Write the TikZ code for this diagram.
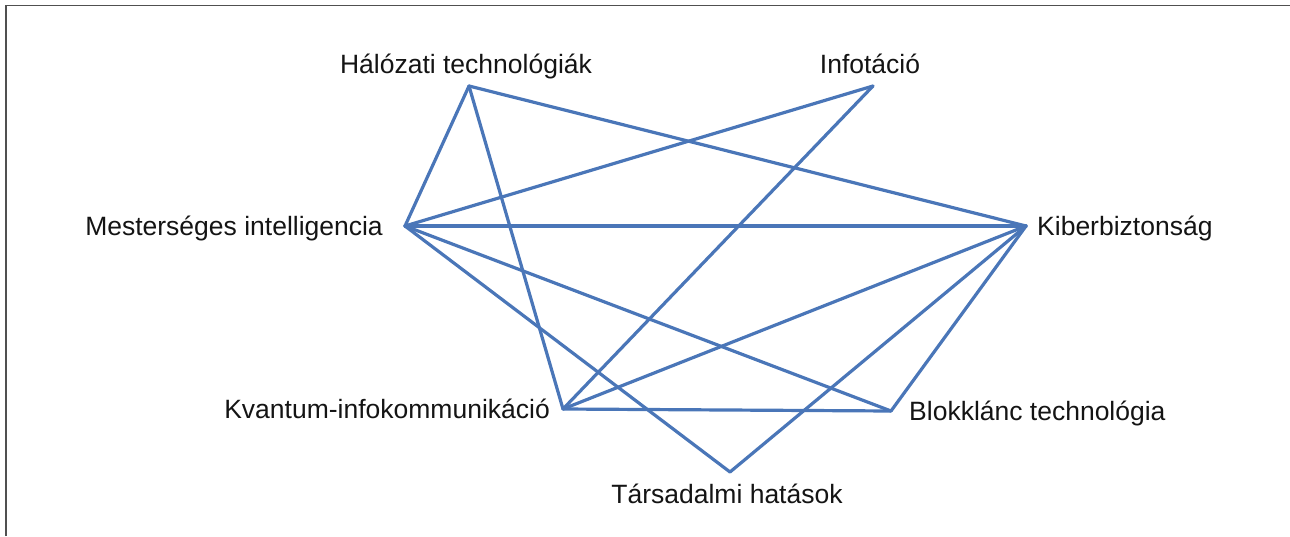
\documentclass[tikz,border=0pt]{standalone}
\usepackage{fontspec}
\setmainfont{Liberation Sans}
\definecolor{edgeblue}{HTML}{4A76B8}
\definecolor{framegray}{HTML}{505050}
\begin{document}
\begin{tikzpicture}[x=1pt,y=-1pt,
  lbl/.style={font=\fontsize{26.5}{31}\selectfont, text=black!92, inner sep=0pt},
  edge/.style={draw=edgeblue, line width=3.2pt, line cap=round, line join=round}]
\useasboundingbox (0,0) rectangle (1290,536);
\draw[framegray, line width=1.5pt] (6,536) -- (6,5.5) -- (1290,5.5);
% vertices
\coordinate (H) at (469,86);
\coordinate (I) at (873,86);
\coordinate (M) at (405,226);
\coordinate (K) at (1026,226);
\coordinate (Q) at (563,409);
\coordinate (B) at (891,411);
\coordinate (T) at (730,472);
% labels
\node[lbl, anchor=base] (hl) at (466,73) {Hálózati technológiák};
\node[lbl, anchor=base] (il) at (870,73) {Infotáció};
\node[lbl, anchor=base east] (ml) at (383,235) {Mesterséges intelligencia};
\node[lbl, anchor=base west] (kl) at (1037,235) {Kiberbiztonság};
\node[lbl, anchor=base east] (ql) at (550,418) {Kvantum-infokommunikáció};
\node[lbl, anchor=base west] (bl) at (909,420) {Blokklánc technológia};
\node[lbl, anchor=base] (tl) at (727,503) {Társadalmi hatások};
% edges
\draw[edge] (H) -- (M);
\draw[edge] (H) -- (K);
\draw[edge] (H) -- (Q);
\draw[edge] (I) -- (M);
\draw[edge] (I) -- (Q);
\draw[edge] (M) -- (K);
\draw[edge] (M) -- (B);
\draw[edge] (M) -- (T);
\draw[edge] (K) -- (Q);
\draw[edge] (K) -- (T);
\draw[edge] (K) -- (B);
\draw[edge] (Q) -- (B);
\end{tikzpicture}
\end{document}
